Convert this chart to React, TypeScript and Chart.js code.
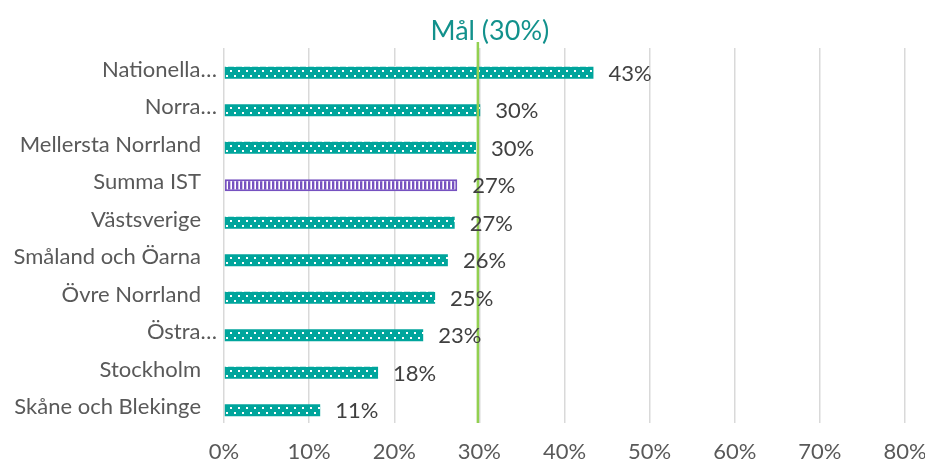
import React, { useEffect, useRef } from "react";
import { Chart, registerables } from "chart.js";

Chart.register(...registerables);

const categories = [
  "Nationella…",
  "Norra…",
  "Mellersta Norrland",
  "Summa IST",
  "Västsverige",
  "Småland och Öarna",
  "Övre Norrland",
  "Östra…",
  "Stockholm",
  "Skåne och Blekinge",
];
const values = [43.4, 30.1, 29.6, 27.4, 27.1, 26.3, 24.8, 23.4, 18.1, 11.3];
const highlighted = ["Summa IST"];
const xTicks = [0, 10, 20, 30, 40, 50, 60, 70, 80];
const goalValue = 30;
const goalLabel = "Mål (30%)";

const FONT = "Lato, 'Open Sans', sans-serif";
const TEAL = "#00A59C";
const PURPLE = "#7651C0";

function makeDots(): CanvasPattern | string {
  const c = document.createElement("canvas");
  c.width = 8;
  c.height = 10;
  const g = c.getContext("2d");
  if (!g) return TEAL;
  g.fillStyle = TEAL;
  g.fillRect(0, 0, 8, 10);
  g.fillStyle = "#ffffff";
  g.fillRect(6, 3, 2, 2);
  g.fillRect(2, 8, 2, 2);
  return g.createPattern(c, "repeat") || TEAL;
}

function makeStripes(): CanvasPattern | string {
  const c = document.createElement("canvas");
  c.width = 4;
  c.height = 4;
  const g = c.getContext("2d");
  if (!g) return PURPLE;
  g.fillStyle = "#ffffff";
  g.fillRect(0, 0, 4, 4);
  g.fillStyle = PURPLE;
  g.fillRect(0, 0, 2, 4);
  g.fillStyle = "rgba(118,81,192,0.35)";
  g.fillRect(2, 0, 1, 4);
  return g.createPattern(c, "repeat") || PURPLE;
}

export default function App() {
  const ref = useRef<HTMLCanvasElement | null>(null);

  useEffect(() => {
    document.body.style.margin = "0";
    const canvas = ref.current;
    if (!canvas) return;
    const fills = categories.map((c) =>
      highlighted.includes(c) ? makeStripes() : makeDots()
    );

    const alignPatterns = {
      id: "alignPatterns",
      beforeDatasetsDraw(chart: any) {
        const meta = chart.getDatasetMeta(1);
        meta.data.forEach((bar: any, i: number) => {
          const p: any = fills[i];
          if (p && typeof p !== "string" && p.setTransform) {
            const top = Math.round(bar.y - bar.height / 2);
            const left = Math.round(chart.chartArea.left);
            p.setTransform(new DOMMatrix().translate(left, top));
          }
        });
      },
    };

    const overlay = {
      id: "overlay",
      afterDatasetsDraw(chart: any) {
        const { ctx, chartArea, scales } = chart;
        const xs = scales.x;
        const ys = scales.y;
        ctx.save();
        // goal line
        const gx = xs.getPixelForValue(goalValue) - 1.5;
        ctx.strokeStyle = "#92D050";
        ctx.lineWidth = 2.5;
        ctx.beginPath();
        ctx.moveTo(gx, chartArea.top - 6);
        ctx.lineTo(gx, chartArea.bottom);
        ctx.stroke();
        ctx.fillStyle = "#12918C";
        ctx.font = `27px ${FONT}`;
        ctx.textAlign = "center";
        ctx.textBaseline = "middle";
        ctx.fillText(goalLabel, gx + 12, chartArea.top - 17);

        // data labels
        const meta = chart.getDatasetMeta(1);
        ctx.font = `22px ${FONT}`;
        ctx.fillStyle = "#404040";
        ctx.textAlign = "left";
        meta.data.forEach((bar: any, i: number) => {
          ctx.fillText(`${Math.round(values[i])}%`, bar.x + 15, bar.y + 1);
        });

        // category labels
        ctx.fillStyle = "#595959";
        ctx.textAlign = "right";
        categories.forEach((c, i) => {
          const y = ys.getPixelForValue(i) + 3;
          const x = c.endsWith("…") ? chartArea.left - 7 : chartArea.left - 23;
          ctx.fillText(c, x, y);
        });
        ctx.restore();
      },
    };

    const chart = new Chart(canvas, {
      type: "bar",
      data: {
        labels: categories,
        datasets: [
          {
            label: "spacer",
            data: categories.map(() => null),
            backgroundColor: "transparent",
          },
          {
            label: "Andel",
            data: values,
            backgroundColor: fills as any,
            borderColor: categories.map((c) =>
              highlighted.includes(c) ? PURPLE : "rgba(0,0,0,0)"
            ),
            borderWidth: categories.map((c) => (highlighted.includes(c) ? 2 : 0)),
            borderSkipped: false,
          },
        ],
      },
      options: {
        indexAxis: "y",
        animation: false,
        responsive: true,
        maintainAspectRatio: false,
        layout: { padding: { top: 48, right: 20, left: 0, bottom: 0 } },
        plugins: {
          legend: { display: false },
          tooltip: { enabled: false },
        },
        datasets: {
          bar: { categoryPercentage: 0.64, barPercentage: 1 },
        },
        scales: {
          x: {
            min: xTicks[0],
            max: xTicks[xTicks.length - 1],
            afterBuildTicks(scale: any) {
              scale.ticks = xTicks.map((v) => ({ value: v }));
            },
            afterFit(scale: any) {
              scale.height = 41;
              scale.paddingLeft = 0;
              scale.paddingRight = 0;
            },
            grid: { color: "#D9D9D9", lineWidth: 1.5, drawTicks: false },
            border: { display: false },
            ticks: {
              padding: 16,
              color: "#595959",
              font: { family: FONT, size: 22 },
              callback: (v: any) => `${v}%`,
            },
          },
          y: {
            afterFit(scale: any) {
              scale.width = 224;
            },
            grid: { display: false },
            border: { display: false },
            ticks: { display: false },
          },
        },
      },
      plugins: [alignPatterns, overlay],
    });
    return () => chart.destroy();
  }, []);

  return (
    <div style={{ width: "925px", height: "464px", position: "relative" }}>
      <canvas ref={ref} />
    </div>
  );
}
